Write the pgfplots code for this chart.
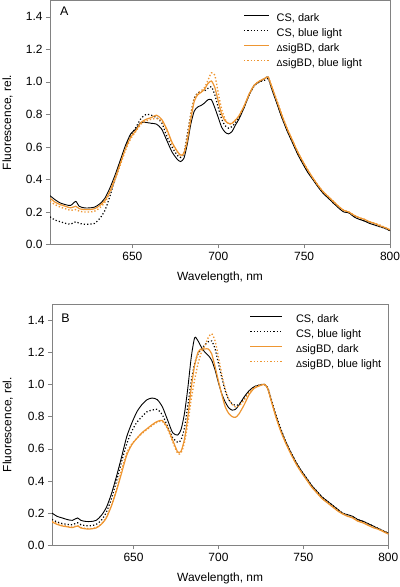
\documentclass[border=0pt]{standalone}
\usepackage{fontspec}
\setmainfont{Liberation Sans}
\usepackage{pgfplots}
\usepackage{pgfplotstable}
\pgfplotsset{compat=1.18}
\definecolor{org}{RGB}{238,150,50}
\definecolor{axgray}{RGB}{130,130,130}

\pgfplotstableread{
l cd cb od ob
602 .300 .170 .285 .265
605 .275 .150 .260 .245
608 .255 .140 .245 .230
611 .245 .130 .235 .220
614 .240 .125 .225 .210
617 .265 .140 .235 .215
619 .235 .130 .220 .205
622 .225 .125 .215 .200
625 .225 .125 .215 .200
628 .230 .130 .220 .205
631 .250 .160 .240 .225
634 .285 .210 .270 .260
637 .350 .300 .330 .320
640 .430 .410 .410 .400
643 .520 .510 .500 .490
646 .610 .600 .590 .580
649 .680 .670 .660 .650
652 .710 .720 .700 .695
655 .750 .775 .750 .740
658 .750 .800 .770 .760
661 .745 .795 .780 .770
664 .740 .780 .795 .775
667 .710 .750 .770 .760
670 .640 .665 .710 .700
673 .570 .600 .630 .620
676 .525 .550 .575 .570
678 .510 .535 .550 .545
680 .530 .560 .560 .560
682 .620 .680 .640 .660
684 .740 .800 .770 .800
686 .820 .900 .880 .895
688 .845 .930 .920 .930
690 .855 .940 .935 .945
692 .870 .945 .955 .965
694 .890 .960 .990 1.010
696 .890 .970 1.005 1.055
698 .840 .920 .965 1.040
700 .780 .840 .880 .930
702 .720 .770 .800 .830
704 .690 .730 .760 .770
706 .680 .715 .745 .740
708 .695 .725 .745 .745
710 .735 .750 .765 .765
712 .770 .780 .790 .790
715 .840 .845 .850 .850
718 .920 .920 .925 .925
721 .980 .975 .980 .980
724 1.000 1.000 1.005 1.005
727 1.020 1.010 1.020 1.020
729 1.030 1.020 1.030 1.030
731 .960 .965 .975 .975
734 .870 .875 .885 .890
737 .780 .785 .795 .800
740 .700 .705 .715 .715
743 .630 .635 .645 .645
746 .560 .565 .575 .575
749 .500 .505 .515 .515
752 .445 .450 .460 .460
755 .400 .405 .410 .410
758 .355 .360 .365 .365
761 .315 .320 .325 .325
764 .285 .290 .295 .295
767 .255 .255 .265 .265
770 .225 .230 .235 .235
773 .200 .205 .210 .210
776 .195 .195 .200 .200
779 .170 .175 .180 .180
782 .155 .160 .165 .165
785 .145 .145 .155 .155
788 .130 .135 .140 .140
791 .120 .120 .130 .130
794 .110 .110 .115 .120
797 .100 .100 .105 .105
800 .085 .085 .090 .090
}\dataA

\pgfplotstableread{
l cd cb od ob
602 .200 .160 .145 .150
605 .180 .145 .130 .135
608 .170 .135 .120 .125
611 .160 .130 .115 .118
614 .155 .128 .110 .113
617 .170 .140 .120 .122
619 .155 .128 .108 .110
622 .148 .122 .102 .105
625 .148 .122 .102 .104
628 .155 .130 .108 .110
631 .185 .155 .130 .132
634 .235 .205 .170 .175
637 .320 .290 .245 .250
640 .430 .400 .340 .350
643 .550 .520 .450 .470
646 .675 .630 .560 .575
649 .760 .710 .625 .630
652 .830 .765 .665 .665
655 .875 .800 .700 .695
658 .905 .830 .725 .720
661 .915 .840 .750 .745
664 .905 .845 .770 .765
667 .860 .810 .775 .770
670 .780 .740 .730 .725
673 .700 .670 .655 .645
676 .685 .640 .580 .570
678 .720 .655 .585 .575
680 .820 .730 .660 .640
682 .980 .870 .800 .760
684 1.170 1.020 .980 .910
686 1.290 1.130 1.120 1.030
688 1.270 1.190 1.200 1.130
690 1.230 1.220 1.220 1.200
692 1.200 1.245 1.220 1.240
694 1.180 1.265 1.220 1.290
696 1.150 1.270 1.190 1.315
698 1.090 1.220 1.110 1.270
700 1.010 1.130 1.020 1.170
702 .940 1.040 .935 1.060
704 .890 .960 .860 .970
706 .855 .905 .820 .910
708 .840 .880 .800 .875
710 .845 .870 .795 .860
712 .870 .875 .815 .865
715 .920 .910 .870 .900
718 .960 .955 .935 .950
721 .985 .985 .975 .980
724 .995 .995 .990 .995
727 1.000 1.000 1.000 1.000
729 .975 .980 .975 .975
731 .905 .910 .900 .905
734 .800 .805 .790 .795
737 .710 .715 .700 .705
740 .635 .635 .625 .628
743 .570 .570 .560 .563
746 .510 .510 .500 .503
749 .460 .460 .450 .453
752 .415 .415 .405 .408
755 .370 .370 .360 .363
758 .335 .335 .325 .328
761 .300 .300 .290 .293
764 .275 .275 .265 .268
767 .250 .250 .240 .243
770 .225 .225 .215 .218
773 .200 .200 .195 .198
776 .190 .190 .180 .183
779 .180 .178 .170 .173
782 .160 .160 .150 .153
785 .150 .148 .140 .143
788 .135 .135 .125 .128
791 .120 .120 .110 .113
794 .105 .105 .100 .102
797 .090 .090 .085 .088
800 .075 .075 .070 .072
}\dataB

\pgfplotsset{
  panel/.style={
    scale only axis,
    xmin=602, xmax=800, ymin=0, ymax=1.5,
    xtick={650,700,750,800},
    ytick={0,0.2,0.4,0.6,0.8,1.0,1.2,1.4},
    yticklabel style={/pgf/number format/.cd, fixed, fixed zerofill, precision=1},
    /pgf/number format/assume math mode=true,
    tick pos=left,
    tick align=outside,
    major tick length=4bp,
    axis line style={draw=axgray},
    every tick/.style={axgray},
    tick label style={font=\fontsize{12}{14}\selectfont},
    xlabel={Wavelength, nm},
    ylabel={Fluorescence, rel.},
    every axis x label/.style={at={(axis description cs:0.5,-0.112)}, anchor=north, inner sep=0pt, font=\fontsize{12}{14}\selectfont},
    legend cell align=left,
    legend style={draw=none, fill=none, inner sep=0pt, font=\fontsize{11}{13}\selectfont,
      nodes={inner sep=0pt, text height=8bp, text depth=2.5bp}, row sep=4.5bp},
  },
  cdst/.style={black, line width=0.9bp, smooth, tension=0.4},
  cbst/.style={black, line width=1.2bp, dash pattern=on 1.2bp off 2.1bp, smooth, tension=0.4},
  odst/.style={org, line width=1.2bp, smooth, tension=0.4},
  obst/.style={org, line width=1.35bp, dash pattern=on 1.35bp off 2bp, smooth, tension=0.4},
}

\begin{document}
\begin{tikzpicture}
\useasboundingbox (0,0) rectangle (400bp,587bp);
\begin{axis}[panel,
  at={(50bp,342.5bp)}, anchor=south west,
  width=340bp, height=244bp,
  every axis y label/.style={at={(axis description cs:-0.109,0.5)}, rotate=90, anchor=south, inner sep=0pt, font=\fontsize{12}{14}\selectfont},
  legend image code/.code={\draw[#1, line width=1.4bp] (0bp,3bp) -- (25bp,3bp);},
  legend style={at={(rel axis cs:0.568,0.949)}, anchor=north west,
    /tikz/every odd column/.style={column sep=7bp}},
]
\addplot[cdst] table[x=l,y=cd] {\dataA};
\addlegendentry{CS, dark}
\addplot[cbst] table[x=l,y=cb] {\dataA};
\addlegendentry{CS, blue light}
\addplot[odst] table[x=l,y=od] {\dataA};
\addlegendentry{{\fontsize{9}{9}\selectfont Δ}sigBD, dark}
\addplot[obst] table[x=l,y=ob] {\dataA};
\addlegendentry{{\fontsize{9}{9}\selectfont Δ}sigBD, blue light}
\node[anchor=base west, inner sep=0pt, font=\fontsize{12.5}{14}\selectfont] at (rel axis cs:0.029,0.94) {A};
\end{axis}

\begin{axis}[panel,
  at={(52bp,41.7bp)}, anchor=south west,
  width=336.3bp, height=241.4bp,
  every axis y label/.style={at={(axis description cs:-0.116,0.5)}, rotate=90, anchor=south, inner sep=0pt, font=\fontsize{12}{14}\selectfont},
  legend image code/.code={\draw[#1, line width=1.4bp] (0bp,3bp) -- (32bp,3bp);},
  legend style={at={(rel axis cs:0.587,0.958)}, anchor=north west,
    /tikz/every odd column/.style={column sep=13bp}},
]
\addplot[cdst] table[x=l,y=cd] {\dataB};
\addlegendentry{CS, dark}
\addplot[cbst] table[x=l,y=cb] {\dataB};
\addlegendentry{CS, blue light}
\addplot[odst] table[x=l,y=od] {\dataB};
\addlegendentry{{\fontsize{9}{9}\selectfont Δ}sigBD, dark}
\addplot[obst] table[x=l,y=ob] {\dataB};
\addlegendentry{{\fontsize{9}{9}\selectfont Δ}sigBD, blue light}
\node[anchor=base west, inner sep=0pt, font=\fontsize{12.5}{14}\selectfont] at (rel axis cs:0.027,0.922) {B};
\end{axis}
\end{tikzpicture}
\end{document}
